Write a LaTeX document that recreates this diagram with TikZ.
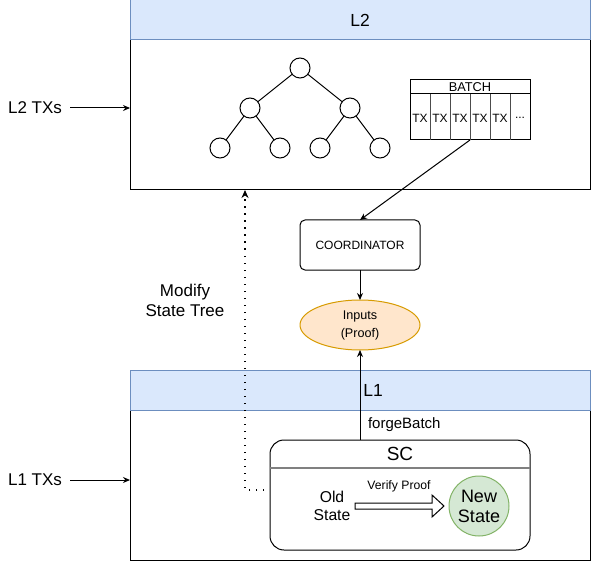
\documentclass[tikz,border=0pt]{standalone}
\usepackage{fontspec}
\setmainfont{Liberation Sans}
\usetikzlibrary{arrows.meta,shapes.geometric}
\definecolor{hdrfill}{HTML}{DAE8FC}
\definecolor{hdrline}{HTML}{6C8EBF}
\definecolor{infill}{HTML}{FFE6CC}
\definecolor{inline}{HTML}{D79B00}
\definecolor{nsfill}{HTML}{D5E8D4}
\definecolor{nsline}{HTML}{82B366}
\newcommand{\fs}[2]{\fontsize{#1}{#2}\selectfont}
\begin{document}
\begin{tikzpicture}[x=1pt,y=-1pt,line width=1pt,
    every node/.style={outer sep=0pt,inner sep=0pt,align=center},
    hdr/.style={draw=hdrline,fill=hdrfill,minimum width=460,minimum height=40,font=\fs{17.5}{20}},
    body/.style={draw,minimum width=460,minimum height=150},
    leaf/.style={draw,circle,minimum size=20},
    txcell/.style={minimum width=20,minimum height=46,font=\fs{12}{14}},
    arr/.style={-{Stealth[length=7pt,width=6pt]}},
    dotarr/.style={dash pattern=on 1.5pt off 5.5pt,line width=1.5pt,-{Stealth[length=8pt,width=7pt]}}]
    \useasboundingbox (0,0) rectangle (591,561);

    % L2 layer
    \node[body] (l2b) at (360,115) {};
    \node[hdr] (l2h) at (360,20) {L2};
    \node[font=\fs{17}{20}] (l2tx) at (35,108) {L2 TXs};
    \draw[arr] (70,108) coordinate (l2in) -- (l2in -| l2b.west);

    % state tree
    \node[leaf] (t1) at (300,68) {};
    \node[leaf] (t2) at (250,108) {};
    \node[leaf] (t3) at (350,108) {};
    \node[leaf] (t4) at (220,148) {};
    \node[leaf] (t5) at (280,148) {};
    \node[leaf] (t6) at (320,148) {};
    \node[leaf] (t7) at (380,148) {};
    \draw (t1) -- (t2);
    \draw (t1) -- (t3);
    \draw (t2) -- (t4);
    \draw (t2) -- (t5);
    \draw (t3) -- (t6);
    \draw (t3) -- (t7);

    % batch
    \node[draw,minimum width=120,minimum height=60] (batch) at (470,110) {};
    \node[font=\fs{12.8}{14}] (bt) at (470,87) {BATCH};
    \draw ([yshift=-14pt]batch.north west) -- ([yshift=-14pt]batch.north east);
    \foreach \i in {0,...,4}
        \node[txcell] (tx\i) at (420+20*\i,118) {TX};
    \node[txcell] (tx5) at (520,118) {...};
    \foreach \i in {1,...,5}
        \draw[line width=0.8pt,black!70] (410+20*\i,94) -- (410+20*\i,140);

    % coordinator and inputs
    \node[draw,rounded corners=5pt,minimum width=120,minimum height=50,font=\fs{12}{14}] (coord) at (360,245) {COORDINATOR};
    \node[draw=inline,fill=infill,ellipse,minimum width=120,minimum height=50,font=\fs{12.6}{18}] (inp) at (360,325) {Inputs\\(Proof)};
    \draw[arr] (batch.south) -- (coord.north);
    \draw[arr] (coord.south) -- (inp.north);

    % L1 layer
    \node[body] (l1b) at (360,485) {};
    \node[hdr] (l1h) at (360,390) {};
    \node[font=\fs{17.5}{20}] (l1t) at (373,390) {L1};
    \node[font=\fs{17}{20}] (l1tx) at (35,480) {L1 TXs};
    \draw[arr] (70,480) coordinate (l1in) -- (l1in -| l1b.west);

    % smart contract
    \node[draw,rounded corners=14pt,minimum width=260,minimum height=110] (sc) at (400,495) {};
    \node[font=\fs{19}{22}] (sct) at (400,454) {SC};
    \draw[line width=1.5pt,black!50] ([yshift=-28pt]sc.north west) -- ([yshift=-28pt]sc.north east);
    \node[font=\fs{15.7}{18.5}] (old) at (332,506) {Old\\State};
    \node[draw=nsline,fill=nsfill,circle,minimum size=60,font=\fs{18}{20}] (new) at (479,506) {New\\State};
    \node[font=\fs{12.2}{14}] (vp) at (399,486) {Verify Proof};
    \draw[fill=white] (355,503) -- (432,503) -- (432,495) -- (444,506) -- (432,517)
        -- (432,509) -- (355,509) -- cycle;
    \draw[arr] (sc.north -| inp.south) -- node[right=8pt,pos=0.17,font=\fs{15}{18}] (fb) {forgeBatch} (inp.south);

    % state update back to L2
    \coordinate (ds) at (264,490);
    \coordinate (dt) at (245,190);
    \draw[dotarr] (ds) -| (dt);
    \node[font=\fs{17}{20}] (mst) at (185,300) {Modify\\State Tree};
\end{tikzpicture}
\end{document}
